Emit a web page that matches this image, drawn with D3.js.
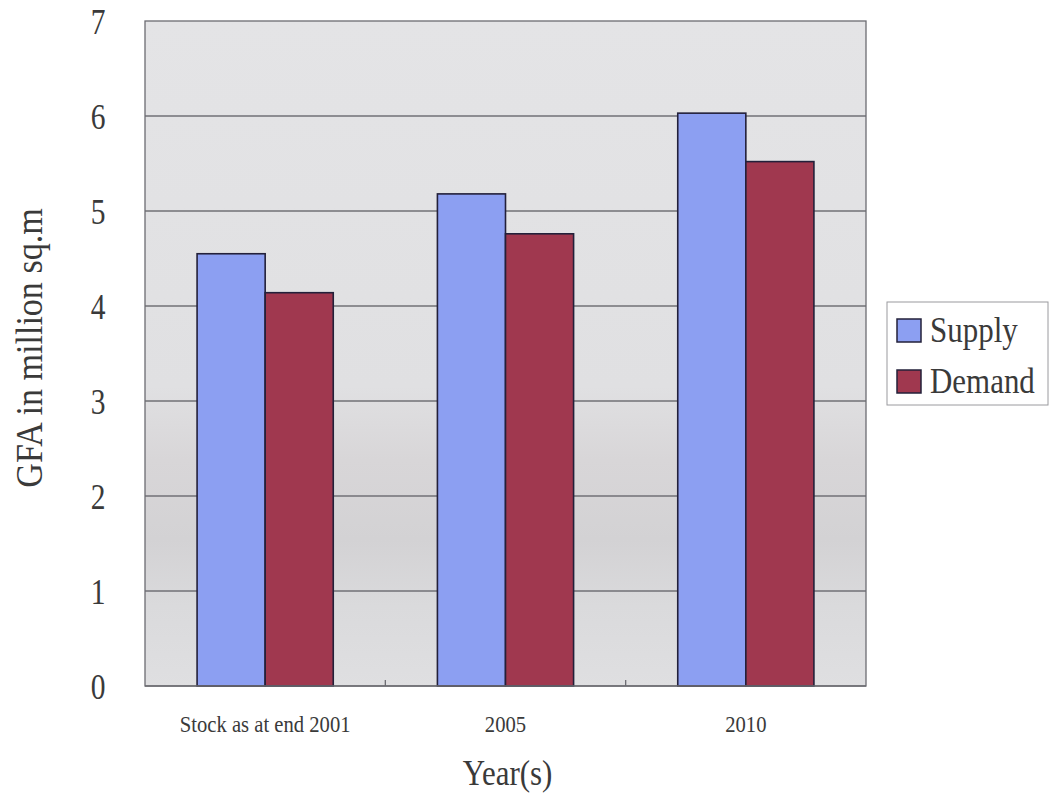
<!DOCTYPE html>
<html>
<head>
<meta charset="utf-8">
<script src="https://cdn.jsdelivr.net/npm/d3@7"></script>
<style>
  html, body { margin: 0; padding: 0; background: #ffffff; }
  svg { display: block; }
  text { font-family: "Liberation Serif", "Times New Roman", serif; fill: #3a3a3a; }
</style>
</head>
<body>
<svg id="chart" width="1052" height="796"></svg>
<script>
// GFA supply and demand, million sq.m
const categories = ["Stock as at end 2001", "2005", "2010"];
const seriesNames = ["Supply", "Demand"];
const supply = [4.55, 5.18, 6.03];
const demand = [4.14, 4.76, 5.52];
const yTicks = [0, 1, 2, 3, 4, 5, 6, 7];
const seriesColors = ["#8c9ff2", "#a0384f"];

const values = [supply, demand];
const svg = d3.select("#chart");

const plot = { left: 145, right: 866, top: 21, bottom: 686 };

const x = d3.scaleBand()
  .domain(categories)
  .range([plot.left, plot.right])
  .paddingInner(0)
  .paddingOuter(0);

const xSeries = d3.scaleBand()
  .domain(seriesNames)
  .range([0, x.bandwidth()])
  .paddingInner(0)
  .paddingOuter(0.765);

const y = d3.scaleLinear()
  .domain([0, 7])
  .range([plot.bottom, plot.top]);

// plot-area fill with a soft darker band in the lower half
const defs = svg.append("defs");
const grad = defs.append("linearGradient")
  .attr("id", "plotFill").attr("x1", 0).attr("y1", 0).attr("x2", 0).attr("y2", 1);
[
  [0, "#e4e4e6"], [0.55, "#e0e0e2"], [0.66, "#d8d6d8"],
  [0.78, "#d3d2d4"], [0.88, "#dadadc"], [1, "#dfdfe1"]
].forEach(([o, c]) => grad.append("stop").attr("offset", o).attr("stop-color", c));

svg.append("rect")
  .attr("x", plot.left).attr("y", plot.top)
  .attr("width", plot.right - plot.left).attr("height", plot.bottom - plot.top)
  .attr("fill", "url(#plotFill)");

// horizontal gridlines
svg.append("g")
  .selectAll("line")
  .data(yTicks.filter(t => t > 0 && t < 7))
  .join("line")
  .attr("x1", plot.left).attr("x2", plot.right)
  .attr("y1", d => y(d)).attr("y2", d => y(d))
  .attr("stroke", "#707076").attr("stroke-width", 1.3);

// plot border
svg.append("rect")
  .attr("x", plot.left).attr("y", plot.top)
  .attr("width", plot.right - plot.left).attr("height", plot.bottom - plot.top)
  .attr("fill", "none").attr("stroke", "#6c6c72").attr("stroke-width", 1.3);

// bars
const groups = svg.append("g")
  .selectAll("g")
  .data(categories)
  .join("g")
  .attr("transform", d => `translate(${x(d)},0)`);

groups.selectAll("rect")
  .data((d, i) => seriesNames.map((s, j) => ({ series: s, value: values[j][i], j })))
  .join("rect")
  .attr("x", d => xSeries(d.series))
  .attr("y", d => y(d.value))
  .attr("width", xSeries.bandwidth())
  .attr("height", d => y(0) - y(d.value))
  .attr("fill", d => seriesColors[d.j])
  .attr("stroke", "#23203a")
  .attr("stroke-width", 1.6);

// y axis
const yAxis = d3.axisLeft(y).tickValues(yTicks).tickSize(0).tickPadding(0).tickFormat(d3.format("d"));
const gy = svg.append("g").attr("transform", `translate(${plot.left},0)`).call(yAxis);
gy.select(".domain").remove();
gy.selectAll("text")
  .attr("font-size", 36)
  .attr("font-family", "Liberation Serif")
  .attr("fill", "#3a3a3a")
  .attr("text-anchor", "middle")
  .attr("x", 0)
  .attr("dy", "0.34em")
  .attr("transform", "translate(-47,0) scale(0.82,1)");

// x axis with tick marks at category boundaries
const gx = svg.append("g").attr("transform", `translate(0,${plot.bottom})`);
gx.append("line")
  .attr("x1", plot.left).attr("x2", plot.right)
  .attr("stroke", "#6c6c72").attr("stroke-width", 1.3);
gx.selectAll("line.tick")
  .data(categories.slice(1))
  .join("line")
  .attr("class", "tick")
  .attr("x1", d => x(d)).attr("x2", d => x(d))
  .attr("y1", 0).attr("y2", -6)
  .attr("stroke", "#6c6c72").attr("stroke-width", 1.3);
gx.selectAll("text")
  .data(categories)
  .join("text")
  .attr("x", 0)
  .attr("y", 46)
  .attr("text-anchor", "middle")
  .attr("font-size", 24)
  .attr("transform", d => `translate(${x(d) + x.bandwidth() / 2},0) scale(0.86,1)`)
  .text(d => d);

// axis titles
svg.append("text")
  .attr("x", 0)
  .attr("y", 0)
  .attr("text-anchor", "middle")
  .attr("font-size", 36)
  .attr("transform", `translate(${(plot.left + plot.right) / 2 + 2},785) scale(0.86,1)`)
  .text("Year(s)");

svg.append("text")
  .attr("transform", `translate(42,348) rotate(-90) scale(0.92,1)`)
  .attr("text-anchor", "middle")
  .attr("font-size", 37)
  .text("GFA in million sq.m");

// legend
const legend = svg.append("g").attr("transform", "translate(887,302)");
legend.append("rect")
  .attr("width", 161).attr("height", 103)
  .attr("fill", "#ffffff").attr("stroke", "#9a9a9e").attr("stroke-width", 1);
const items = legend.selectAll("g")
  .data(seriesNames)
  .join("g")
  .attr("transform", (d, i) => `translate(10,${17 + i * 51})`);
items.append("rect")
  .attr("width", 24).attr("height", 23)
  .attr("fill", (d, i) => seriesColors[i])
  .attr("stroke", "#23203a").attr("stroke-width", 1.5);
items.append("text")
  .attr("x", 0)
  .attr("y", 0)
  .attr("font-size", 36)
  .attr("transform", "translate(33,23) scale(0.86,1)")
  .text(d => d);
</script>
</body>
</html>
